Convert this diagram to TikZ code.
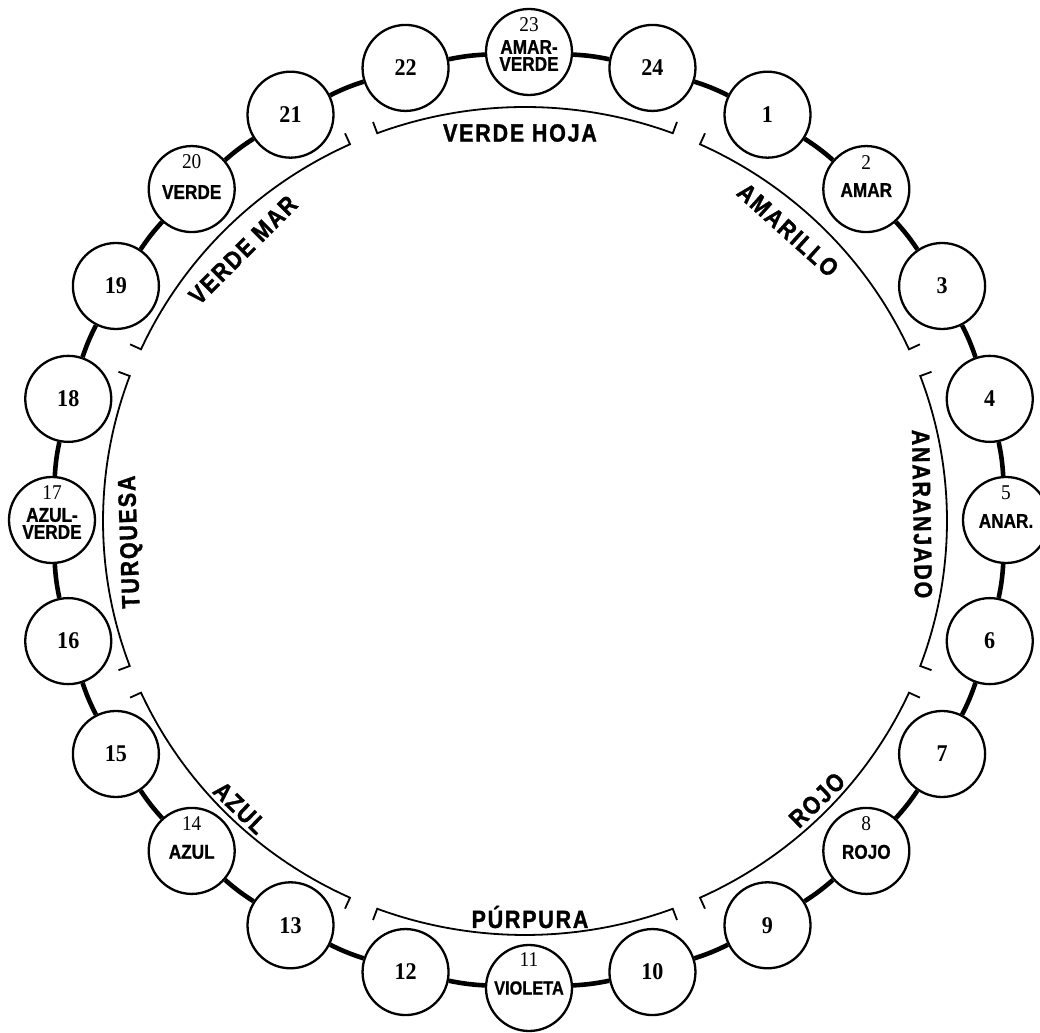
\documentclass[tikz,border=0pt]{standalone}
\usepackage{fontspec}
\setmainfont{Liberation Serif}
\newfontfamily\labfont{Liberation Sans}[LetterSpace=7, FakeStretch=0.86, FakeBold=1.2]
\newfontfamily\wordfont{Liberation Sans}[FakeStretch=0.86, FakeBold=0.8]
\newfontfamily\numfont{Liberation Serif}[FakeStretch=0.92]
\begin{document}
\begin{tikzpicture}[x=1pt,y=1pt,
  ring/.style={circle, draw, line width=2.3pt, fill=white, minimum size=86pt, inner sep=0pt},
  link/.style={line width=4.6pt},
  brk/.style={line width=1.8pt},
  numbig/.style={font=\numfont\fontsize{24}{24}\selectfont\bfseries, inner sep=0pt},
  numsmall/.style={font=\numfont\fontsize{21}{21}\selectfont, inner sep=0pt},
  word/.style={font=\wordfont\fontsize{20}{20}\selectfont\bfseries, inner sep=0pt},
  grp/.style={font=\labfont\fontsize{25}{25}\selectfont\bfseries, inner sep=0pt}
]
\useasboundingbox (0,0) rectangle (1040,1032);
\fill[white] (0,0) rectangle (1040,1032);

% ring of circles
\foreach \k in {1,...,24}{
  \pgfmathsetmacro\a{435-15*\k}
  \node[ring] (n\k) at ({529+477*cos(\a)},{512+468*sin(\a)}) {};
}
% connectors
\foreach \k [evaluate=\k as \j using {int(mod(\k,24)+1)}] in {1,...,24}{
  \draw[link] (n\k) to[bend left=4] (n\j);
}

% plain numbers
\foreach \k in {1,3,4,6,7,9,10,12,13,15,16,18,19,21,22,24}{
  \node[numbig] (t\k) at (n\k) {\k};
}

% labelled circles
\node[numsmall] (m2) at ([yshift=27]n2.center) {2};
\node[word] (w2) at ([yshift=-1]n2.center) {AMAR};
\node[numsmall] (m5) at ([yshift=27]n5.center) {5};
\node[word] (w5) at ([yshift=-1]n5.center) {ANAR.};
\node[numsmall] (m8) at ([yshift=27]n8.center) {8};
\node[word] (w8) at ([yshift=-1]n8.center) {ROJO};
\node[numsmall] (m11) at ([yshift=28]n11.center) {11};
\node[word, font=\wordfont\fontsize{19}{19}\selectfont\bfseries] (w11) at ([yshift=0]n11.center) {VIOLETA};
\node[numsmall] (m14) at ([yshift=27]n14.center) {14};
\node[word] (w14) at ([yshift=-1]n14.center) {AZUL};
\node[numsmall] (m17) at ([yshift=27]n17.center) {17};
\node[word] (w17a) at ([yshift=5]n17.center) {AZUL-};
\node[word] (w17b) at ([yshift=-12]n17.center) {VERDE};
\node[numsmall] (m20) at ([yshift=27]n20.center) {20};
\node[word] (w20) at ([yshift=-3]n20.center) {VERDE};
\node[numsmall] (m23) at ([yshift=27]n23.center) {23};
\node[word] (w23a) at ([yshift=5]n23.center) {AMAR-};
\node[word] (w23b) at ([yshift=-12]n23.center) {VERDE};

% brackets
\begin{scope}[shift={(525,511)}]
\foreach \c in {90,45,0,-45,-90,-135,180,135}{
  \pgfmathsetmacro\s{\c+20.5}
  \pgfmathsetmacro\e{\c-20.5}
  \draw[brk, line join=miter] (\s:434 and 426) -- (\s:422 and 414)
     arc[start angle=\s, end angle=\e, x radius=422, y radius=414]
     -- (\e:434 and 426);
}
\end{scope}

% group labels
\node[grp] (gVH) at (520,899) {VERDE HOJA};
\node[grp, rotate=-42] (gAM) at (788,802) {AMARILLO};
\node[grp, rotate=-89] (gAN) at (922,518) {ANARANJADO};
\node[grp, rotate=44] (gRO) at (817,232) {ROJO};
\node[grp] (gPU) at (530,115) {PÚRPURA};
\node[grp, rotate=-44] (gAZ) at (240,224) {AZUL};
\node[grp, rotate=92] (gTU) at (131,490) {TURQUESA};
\node[grp, rotate=45] (gVM) at (243,782) {VERDE MAR};
\end{tikzpicture}
\end{document}
